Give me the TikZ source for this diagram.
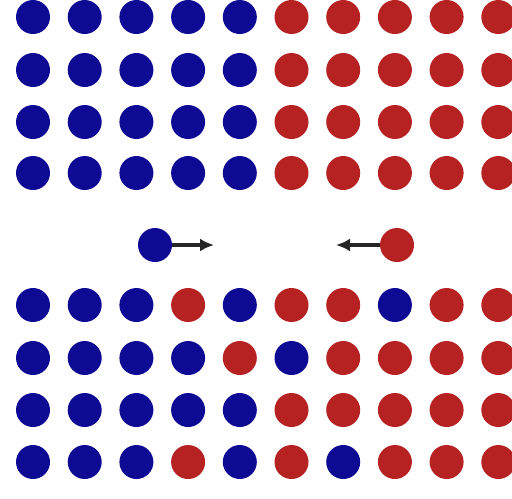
\documentclass[tikz,border=0pt]{standalone}
\usetikzlibrary{arrows.meta, positioning}
\definecolor{dotBlue}{RGB}{14,10,148}
\definecolor{dotRed}{RGB}{182,34,34}

\begin{document}
\begin{tikzpicture}[
    x=0.2mm, y=-0.2mm,
    dot/.style={circle, minimum size=6.8mm, inner sep=0pt},
    bdot/.style={dot, fill=dotBlue},
    rdot/.style={dot, fill=dotRed},
    arrow/.style={-{Latex[length=2.8mm, width=2.6mm]}, line width=2.4pt, black!85}
]
    \useasboundingbox (0,0) rectangle (512,498);

    % Upper lattice: blue half and red half
    \foreach \y [count=\r] in {17,70,122,173}{
        \foreach \k [count=\c] in {bdot,bdot,bdot,bdot,bdot,rdot,rdot,rdot,rdot,rdot}{
            \node[\k] (top-\r-\c) at ({33+51.7*(\c-1)},\y) {};
        }
    }

    % Moving particles
    \node[bdot] (moverB) at (155,245) {};
    \node[rdot] (moverR) at (397,245) {};
    \coordinate (tipB) at (214,245);
    \coordinate (tipR) at (336,245);

    % Lower lattice: mixed
    \foreach \y/\row [count=\r] in {
        305/{bdot,bdot,bdot,rdot,bdot,rdot,rdot,bdot,rdot,rdot},
        358/{bdot,bdot,bdot,bdot,rdot,bdot,rdot,rdot,rdot,rdot},
        410/{bdot,bdot,bdot,bdot,bdot,rdot,rdot,rdot,rdot,rdot},
        462/{bdot,bdot,bdot,rdot,bdot,rdot,bdot,rdot,rdot,rdot}}{
        \foreach \k [count=\c] in \row{
            \node[\k] (low-\r-\c) at ({33+51.7*(\c-1)},\y) {};
        }
    }

    % Links
    \draw[arrow] (moverB) -- (tipB);
    \draw[arrow] (moverR) -- (tipR);
\end{tikzpicture}
\end{document}
